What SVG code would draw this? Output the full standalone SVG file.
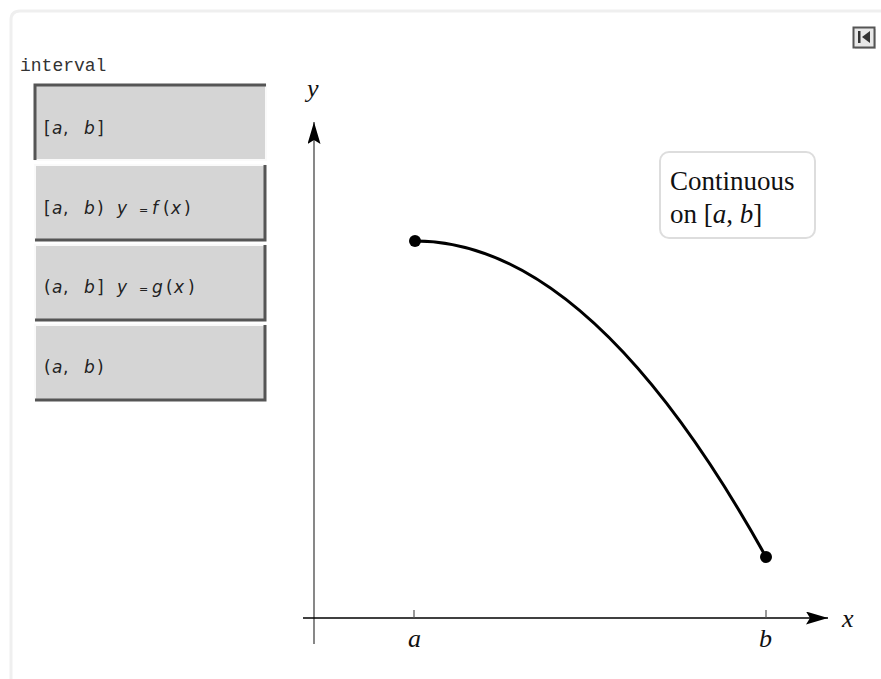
<svg xmlns="http://www.w3.org/2000/svg" width="881" height="679" viewBox="0 0 881 679">
<style>
.btn{fill:#d5d5d5}
.dk{stroke:#555;stroke-width:3;fill:none}
.lt{stroke:#fafafa;stroke-width:2;fill:none}
.bt{font-family:"DejaVu Sans","Noto Sans",sans-serif;font-size:17px;fill:#222}
.it{font-style:italic}
.eq{font-size:11px}
.lbl{font-family:"Liberation Serif","DejaVu Serif",serif;font-style:italic;font-size:26px;fill:#111}
.note{font-family:"Liberation Serif","DejaVu Serif",serif;font-size:27px;fill:#111}
</style>
<defs>
<marker id="ah" viewBox="0 0 22 13" refX="22" refY="6.5" markerWidth="22" markerHeight="13" markerUnits="userSpaceOnUse" orient="auto">
<path d="M0,0 L22,6.5 L0,13 L4,6.5 Z" fill="#000"/>
</marker>
</defs>
<rect width="881" height="679" fill="#fff"/>
<path d="M11,690 V20 Q11,11 20,11 H895" fill="none" stroke="#efefef" stroke-width="3"/>

<g id="toggle">
<rect x="855" y="29" width="21" height="20" fill="#ddd"/>
<rect x="853.5" y="27.5" width="21" height="20" fill="#e8e8e8" stroke="#555" stroke-width="2"/>
<rect x="858" y="31" width="2.5" height="12" fill="#333"/>
<path d="M870,31 L862,37 L870,43 Z" fill="#333"/>
</g>

<text x="20" y="71" font-family="Liberation Mono,monospace" font-size="18" fill="#333">interval</text>

<g id="btn1">
<rect class="btn" x="34" y="84" width="232" height="76"/>
<path class="lt" d="M34,160 H266 V84"/>
<path class="dk" d="M35,160 V85 H266"/>
<text class="bt" y="134"><tspan x="44">[</tspan><tspan class="it" x="52">a</tspan><tspan x="63">,</tspan><tspan class="it" x="84">b</tspan><tspan x="97">]</tspan></text>
</g>
<g id="btn2">
<rect class="btn" x="35" y="165" width="231" height="76"/>
<path class="lt" d="M35,241 V165 H266"/>
<path class="dk" d="M35,240 H265 V165"/>
<text class="bt" y="214"><tspan x="44">[</tspan><tspan class="it" x="52">a</tspan><tspan x="63">,</tspan><tspan class="it" x="84">b</tspan><tspan x="97">)</tspan><tspan class="it" x="117">y</tspan><tspan class="eq" x="139">=</tspan><tspan class="it" x="152">f</tspan><tspan x="163">(</tspan><tspan class="it" x="171">x</tspan><tspan x="184">)</tspan></text>
</g>
<g id="btn3">
<rect class="btn" x="35" y="245" width="231" height="76"/>
<path class="lt" d="M35,321 V245 H266"/>
<path class="dk" d="M35,320 H265 V245"/>
<text class="bt" y="293"><tspan x="44">(</tspan><tspan class="it" x="52">a</tspan><tspan x="63">,</tspan><tspan class="it" x="84">b</tspan><tspan x="97">]</tspan><tspan class="it" x="117">y</tspan><tspan class="eq" x="139">=</tspan><tspan class="it" x="152">g</tspan><tspan x="166">(</tspan><tspan class="it" x="174">x</tspan><tspan x="188">)</tspan></text>
</g>
<g id="btn4">
<rect class="btn" x="35" y="325" width="231" height="76"/>
<path class="lt" d="M35,401 V325 H266"/>
<path class="dk" d="M35,400 H265 V325"/>
<text class="bt" y="373"><tspan x="44">(</tspan><tspan class="it" x="52">a</tspan><tspan x="63">,</tspan><tspan class="it" x="84">b</tspan><tspan x="97">)</tspan></text>
</g>

<g id="axes">
<line x1="314" y1="644" x2="314" y2="122" stroke="#555" stroke-width="1.4" marker-end="url(#ah)"/>
<line x1="303" y1="618" x2="828" y2="618" stroke="#000" stroke-width="1.4" marker-end="url(#ah)"/>
<line x1="414" y1="610" x2="414" y2="618" stroke="#555" stroke-width="1.2"/>
<line x1="766" y1="610" x2="766" y2="618" stroke="#555" stroke-width="1.2"/>
</g>
<text class="lbl" x="307" y="97">y</text>
<text class="lbl" x="408" y="647">a</text>
<text class="lbl" x="759" y="647">b</text>
<text class="lbl" x="842" y="627">x</text>

<g id="curve">
<path d="M415,241 Q590.5,241 766,557" fill="none" stroke="#000" stroke-width="3"/>
<circle cx="415" cy="241" r="6" fill="#000"/>
<circle cx="766" cy="557" r="6" fill="#000"/>
</g>

<g id="note">
<rect x="660" y="152" width="155" height="86" rx="9" fill="#fff" stroke="#ddd" stroke-width="2"/>
<text class="note" x="670" y="190">Continuous</text>
<text class="note" x="670" y="223">on [<tspan font-style="italic">a</tspan>, <tspan font-style="italic">b</tspan>]</text>
</g>
</svg>
